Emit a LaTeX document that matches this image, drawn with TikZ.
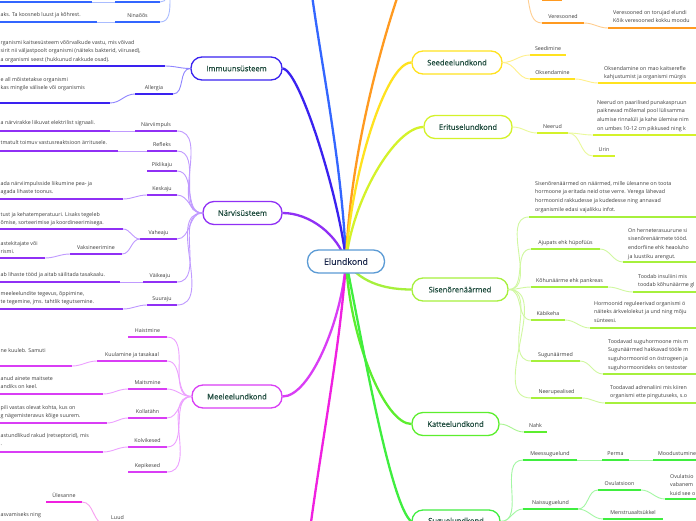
\documentclass[tikz,border=0pt]{standalone}
\usepackage{fontspec}
\setmainfont{Open Sans}
\newfontfamily\bxfam{Open Sans}[FakeBold=0.5]
\usetikzlibrary{backgrounds}
\newcommand{\nf}{\fontsize{5.3}{8.6}\selectfont}
\newcommand{\bxf}{\bxfam\fontsize{7.6}{9}\selectfont}
\newcommand{\crf}{\bxfam\fontsize{8.8}{10}\selectfont}
\definecolor{hing}{HTML}{3366FF}
\definecolor{hingL}{HTML}{A9BCFF}
\definecolor{imm}{HTML}{3A22F0}
\definecolor{immL}{HTML}{8F85FF}
\definecolor{nerv}{HTML}{9030F5}
\definecolor{nervL}{HTML}{C09AFF}
\definecolor{meel}{HTML}{D93DF5}
\definecolor{meelL}{HTML}{EDA0FF}
\definecolor{tugi}{HTML}{F020E0}
\definecolor{tugiL}{HTML}{F8A0F0}
\definecolor{vere}{HTML}{FF9A20}
\definecolor{vereL}{HTML}{FFCE90}
\definecolor{seed}{HTML}{FFE21F}
\definecolor{seedL}{HTML}{FFF08A}
\definecolor{erit}{HTML}{D4F22A}
\definecolor{eritL}{HTML}{EAF99A}
\definecolor{sise}{HTML}{A6F03C}
\definecolor{siseL}{HTML}{D0F8A0}
\definecolor{katt}{HTML}{5CEE2E}
\definecolor{kattL}{HTML}{A8F590}
\definecolor{sugu}{HTML}{3FEE3F}
\definecolor{suguL}{HTML}{A4F7A4}
\definecolor{core}{HTML}{5B9BD5}
\definecolor{boxtxt}{HTML}{1D4A3C}
\definecolor{coretxt}{HTML}{1E2B4F}
\definecolor{labtxt}{HTML}{3C3C3C}
\tikzset{
  mainln/.style={line width=2.3pt},
  conn/.style={line width=0.9pt},
  ul/.style={line width=1.9pt},
  bx/.style={draw, rounded corners=11pt, line width=1.3pt, fill=white, minimum height=23pt, inner sep=0pt, font=\bxf, text=boxtxt},
  lab/.style={anchor=base, inner sep=0pt, font=\nf, text=labtxt},
  note/.style={anchor=north west, inner sep=0pt, align=left, font=\nf, text=labtxt},
}
% topic: name, x1, x2, y, colour, label
\newcommand{\mmtp}[6]{%
  \coordinate (#1s) at (#2,#4);
  \coordinate (#1e) at (#3,#4);
  \draw[ul,#5] (#1s) -- (#1e);
  \node[lab] (#1l) at ({(#2+#3)/2},{#4-5}) {#6};
}
% plain underline: name, x1, x2, y, colour
\newcommand{\mmul}[5]{%
  \coordinate (#1s) at (#2,#4);
  \coordinate (#1e) at (#3,#4);
  \draw[ul,#5] (#1s) -- (#1e);
}
\begin{document}
\begin{tikzpicture}[x=1pt,y=-1pt]
\useasboundingbox (0,0) rectangle (696,520);
\clip (0,0) rectangle (696,520);

% ---------- main boxes ----------
\node[bx, draw=core, text=coretxt, font=\crf, minimum width=77pt] (core) at (346,261.5) {Elundkond};
\node[bx, draw=imm, minimum width=91pt] (imm) at (236.5,68.5) {Immuunsüsteem};
\node[bx, draw=nerv, minimum width=79pt] (nerv) at (242.5,213) {Närvisüsteem};
\node[bx, draw=meel, minimum width=90pt] (meel) at (237,396.5) {Meeleelundkond};
\node[bx, draw=seed, minimum width=90pt] (seed) at (457,62.5) {Seedeelundkond};
\node[bx, draw=erit, minimum width=88pt] (erit) at (468,127) {Erituselundkond};
\node[bx, draw=sise, minimum width=96pt] (sise) at (460,289.5) {Sisenõrenäärmed};
\node[bx, draw=katt, minimum width=87pt] (katt) at (455.5,424) {Katteelundkond};
\node[bx, draw=sugu, minimum width=88pt] (sugu) at (456,521.5) {Suguelundkond};

\coordinate (hingE) at (310,-20);
\coordinate (hingW) at (180,-25);
\coordinate (vereE) at (405,-25);
\coordinate (vereW) at (515,-20);
\coordinate (tugiE) at (308,545);

\begin{pgfonlayer}{background}
\fill[white] (0,0) rectangle (696,520);
\draw[mainln,hing] (core.center) .. controls (342,160) and (320,60) .. (hingE);
\draw[mainln,imm] (core.center) .. controls (340,200) and (300,70) .. (imm.east);
\draw[mainln,nerv] (core.center) .. controls (338,235) and (310,213) .. (nerv.east);
\draw[mainln,vere] (core.center) .. controls (350,150) and (385,30) .. (vereE);
\draw[mainln,seed] (core.center) .. controls (350,180) and (385,62.5) .. (seed.west);
\draw[mainln,erit] (core.center) .. controls (352,200) and (395,127) .. (erit.west);
\draw[mainln,meel] (core.center) .. controls (342,320) and (310,396.5) .. (meel.east);
\draw[mainln,tugi] (core.center) .. controls (340,350) and (320,450) .. (tugiE);
\draw[mainln,sise] (core.center) .. controls (362,285) and (390,289.5) .. (sise.west);
\draw[mainln,katt] (core.center) .. controls (350,340) and (385,424) .. (katt.west);
\draw[mainln,sugu] (core.center) .. controls (360,330) and (390,505) .. (sugu.west);
\end{pgfonlayer}

% ---------- top-left (blue) ----------
\mmul{hA}{0}{92}{2}{hing}
\mmul{hB}{115}{160}{2}{hing}
\draw[conn,hingL] (hAe) -- (hBs);
\draw[conn,hingL] (hBe) to[out=0,in=180] (hingW);
\node[note] (hCn) at (0.5,12) {aks. Ta koosneb luust ja kõhrest.};
\mmul{hC}{0}{97}{22}{hing}
\mmtp{hD}{115}{160}{22}{hing}{Ninaõõs}
\draw[conn,hingL] (hCe) -- (hDs);
\draw[conn,hingL] (hDe) to[out=0,in=180] (hingW);

% ---------- Immuunsüsteem ----------
\node[note] (imAn) at (0.5,40) {rganismi kaitsesüsteem võõrvalkude vastu, mis võivad\\sirit nii väljastpoolt organismi (näiteks bakterid, viirused),\\a organismi seest (hukkunud rakkude osad).};
\mmul{imA}{0}{165}{66}{imm}
\draw[conn,immL] (imAe) to[out=0,in=180] (imm.west);
\node[note] (imBn) at (0.5,77) {e all mõistetakse organismi\\kas mingile välisele või organismis};
\mmul{imB}{0}{110}{103}{imm}
\mmtp{imC}{135}{173}{94}{imm}{Allergia}
\draw[conn,immL] (imBe) to[out=0,in=180] (imCs);
\draw[conn,immL] (imCe) to[out=0,in=180] (imm.west);

% ---------- Närvisüsteem ----------
\node[note] (nAn) at (0.5,120) {a närvirakke liikuvat elektrilist signaali.};
\mmul{nA}{0}{110}{131}{nerv}
\mmtp{nB}{135}{177}{131}{nerv}{Närviimpuls}
\draw[conn,nervL] (nAe) -- (nBs);
\node[note] (nCn) at (0.5,140) {tmatult toimuv vastusreaktsioon ärritusele.};
\mmul{nC}{0}{118}{151}{nerv}
\mmtp{nD}{147}{177}{151}{nerv}{Refleks}
\draw[conn,nervL] (nCe) -- (nDs);
\mmtp{nE}{147}{177}{171}{nerv}{Piklikaju}
\node[note] (nFn) at (0.5,181) {ada närviimpulsside liikumine pea- ja\\agada lihaste toonus.};
\mmul{nF}{0}{123}{199}{nerv}
\mmtp{nG}{147}{177}{195}{nerv}{Keskaju}
\draw[conn,nervL] (nFe) to[out=0,in=180] (nGs);
\node[note] (nHn) at (0.5,212) {tust ja kehatemperatuuri. Lisaks tegeleb\\õmise, sorteerimise ja koordineerimisega.};
\mmul{nH}{0}{123}{229}{nerv}
\mmtp{nI}{140}{177}{239}{nerv}{Vaheaju}
\draw[conn,nervL] (nHe) to[out=0,in=180] (nIs);
\mmtp{nJ}{70}{122}{254}{nerv}{Vaksineerimine}
\draw[conn,nervL] (nJe) to[out=0,in=180] (nIs);
\node[note] (nKn) at (0.5,241) {astekitajate või\\rismi.};
\mmul{nK}{0}{45}{258}{nerv}
\draw[conn,nervL] (nKe) to[out=0,in=180] (nJs);
\node[note] (nLn) at (0.5,272) {ab lihaste tööd ja aitab säilitada tasakaalu.};
\mmul{nL}{0}{120}{282}{nerv}
\mmtp{nM}{143}{177}{282}{nerv}{Väikeaju}
\draw[conn,nervL] (nLe) -- (nMs);
\node[note] (nNn) at (0.5,291) {meeleelundite tegevus, õppimine,\\te tegemine, jms. tahtlik tegutsemine.};
\mmul{nN}{0}{123}{309}{nerv}
\mmtp{nO}{147}{177}{305}{nerv}{Suuraju}
\draw[conn,nervL] (nNe) to[out=0,in=180] (nOs);
\foreach \t in {nB,nD,nE,nG,nI,nM,nO}
  \draw[conn,nervL] (\t e) to[out=0,in=180] (nerv.west);

% ---------- Meeleelundkond ----------
\mmtp{mA}{128}{167}{337}{meel}{Haistmine}
\mmtp{mB}{97}{167}{361}{meel}{Kuulamine ja tasakaal}
\node[note] (mCn) at (0.5,348) {ne kuuleb. Samuti};
\mmul{mC}{0}{72}{366}{meel}
\draw[conn,meelL] (mCe) to[out=0,in=180] (mBs);
\mmtp{mD}{128}{167}{389}{meel}{Maitsmine}
\node[note] (mEn) at (0.5,376) {anud ainete maitsete\\andiks on keel.};
\mmul{mE}{0}{103}{394}{meel}
\draw[conn,meelL] (mEe) to[out=0,in=180] (mDs);
\mmtp{mF}{128}{167}{418}{meel}{Kollatähn}
\node[note] (mGn) at (0.5,405) {pili vastas olevat kohta, kus on\\g nägemisteravus kõige suurem.};
\mmul{mG}{0}{107}{423}{meel}
\draw[conn,meelL] (mGe) to[out=0,in=180] (mFs);
\mmtp{mH}{128}{167}{447}{meel}{Kolvikesed}
\node[note] (mIn) at (0.5,433) {astundlikud rakud (retseptorid), mis\\.};
\mmul{mI}{0}{103}{452}{meel}
\draw[conn,meelL] (mIe) to[out=0,in=180] (mHs);
\mmtp{mJ}{128}{167}{472}{meel}{Kepikesed}
\foreach \t in {mA,mB,mD,mF,mH,mJ}
  \draw[conn,meelL] (\t e) to[out=0,in=180] (meel.west);

% ---------- bottom-left (magenta) ----------
\mmtp{tA}{46}{82}{502}{tugi}{Ülesanne}
\mmtp{tB}{105}{130}{524}{tugi}{Luud}
\draw[conn,tugiL] (tAe) to[out=0,in=180] (tBs);
\node[note] (tCn) at (0.5,512) {asvamiseks ning};

% ---------- top-right (orange) ----------
\mmul{vA}{542}{562}{0}{vere}
\mmtp{vB}{542}{584}{23}{vere}{Veresooned}
\draw[conn,vereL] (vereW) to[out=0,in=180] (vBs);
\node[note] (vCn) at (613,10) {Veresooned on torujad elundi\\Kõik veresooned kokku moodu};
\mmul{vC}{608}{696}{28}{vere}
\draw[conn,vereL] (vBe) to[out=0,in=180] (vCs);

% ---------- Seedeelundkond ----------
\mmtp{sA}{530}{566}{55}{seed}{Seedimine}
\mmtp{sB}{530}{575}{79}{seed}{Oksendamine}
\node[note] (sCn) at (604,66) {Oksendamine on mao kaitserefle\\kahjustumist ja organismi mürgis};
\mmul{sC}{598}{696}{83}{seed}
\draw[conn,seedL] (sBe) to[out=0,in=180] (sCs);
\draw[conn,seedL] (seed.east) to[out=0,in=180] (sAs);
\draw[conn,seedL] (seed.east) to[out=0,in=180] (sBs);

% ---------- Erituselundkond ----------
\mmtp{eA}{537}{568}{133}{erit}{Neerud}
\node[note] (eBn) at (597,100) {Neerud on paarilised punakaspruun\\paiknevad mõlemal pool lülisamma\\alumise rinnalüli ja kahe ülemise nim\\on umbes 10-12 cm pikkused ning k};
\mmul{eB}{593}{696}{135}{erit}
\draw[conn,eritL] (eAe) to[out=0,in=180] (eBs);
\mmtp{eC}{593}{615}{156}{erit}{Urin}
\draw[conn,eritL] (eAe) to[out=0,in=180] (eCs);
\draw[conn,eritL] (erit.east) to[out=0,in=180] (eAs);

% ---------- Sisenõrenäärmed ----------
\node[note] (iAn) at (535,181) {Sisenõrenäärmed on näärmed, mille ülesanne on toota\\hormoone ja eritada neid otse verre. Verega lähevad\\hormoonid rakkudesse ja kudedesse ning annavad\\organismile edasi vajalikku infot.};
\mmul{iA}{529}{696}{217}{sise}
\mmtp{iB}{531}{600}{249}{sise}{Ajupats ehk hüpofüüs}
\node[note] (iCn) at (628,228) {On herneterasuurune si\\sisenõrenäärmete tööd.\\endorfiine ehk heaoluho\\ja luustiku arengut.};
\mmul{iC}{623}{696}{262}{sise}
\draw[conn,siseL] (iBe) to[out=0,in=180] (iCs);
\mmtp{iD}{531}{608}{287}{sise}{Kõhunäärme ehk pankreas}
\node[note] (iEn) at (638,274) {Toodab insuliini mis\\toodab kõhunäärme gl};
\mmul{iE}{633}{696}{292}{sise}
\draw[conn,siseL] (iDe) to[out=0,in=180] (iEs);
\mmtp{iF}{531}{565}{320}{sise}{Käbikeha}
\node[note] (iGn) at (594,301) {Hormoonid reguleerivad organismi ö\\näiteks ärkvelolekut ja und ning mõju\\sünteesi.};
\mmul{iG}{590}{696}{328}{sise}
\draw[conn,siseL] (iFe) to[out=0,in=180] (iGs);
\mmtp{iH}{531}{580}{361}{sise}{Sugunäärmed}
\node[note] (iIn) at (608,339) {Toodavad suguhormoone mis m\\Sugunäärmed hakkavad tööle m\\suguhormoonid on östrogeen ja\\suguhormoonideks on testoster};
\mmul{iI}{603}{696}{374}{sise}
\draw[conn,siseL] (iHe) to[out=0,in=180] (iIs);
\mmtp{iJ}{531}{582}{398}{sise}{Neerupealised}
\node[note] (iKn) at (610,385) {Toodavad adrenaliini mis kiiren\\organismi ette pingutuseks, s.o};
\mmul{iK}{605}{696}{403}{sise}
\draw[conn,siseL] (iJe) to[out=0,in=180] (iKs);
\foreach \t in {iA,iB,iD,iF,iH,iJ}
  \draw[conn,siseL] (sise.east) to[out=0,in=180] (\t s);

% ---------- Katteelundkond ----------
\mmtp{kA}{524}{547}{432}{katt}{Nahk}
\draw[conn,kattL] (katt.east) to[out=0,in=180] (kAs);

% ---------- Suguelundkond ----------
\mmtp{gA}{523}{577}{460}{sugu}{Meessuguelund}
\mmtp{gB}{602}{629}{460}{sugu}{Perma}
\mmul{gC}{653}{700}{460}{sugu}
\node[lab,anchor=base west] (gCl) at (658,455) {Moodustumine};
\draw[conn,suguL] (gAe) -- (gBs);
\draw[conn,suguL] (gBe) -- (gCs);
\mmtp{gD}{523}{578}{509}{sugu}{Naissuguelund}
\mmtp{gE}{598}{641}{490}{sugu}{Ovulatsioon}
\draw[conn,suguL] (gDe) to[out=0,in=180] (gEs);
\node[note] (gFn) at (670,474) {Ovulatsio\\vabanem\\kuid see o};
\mmul{gF}{665}{696}{499}{sugu}
\draw[conn,suguL] (gEe) to[out=0,in=180] (gFs);
\mmtp{gG}{603}{663}{519}{sugu}{Menstruaaltsükkel}
\draw[conn,suguL] (gDe) to[out=0,in=180] (gGs);
\draw[conn,suguL] (sugu.east) to[out=0,in=180] (gAs);
\draw[conn,suguL] (sugu.east) to[out=0,in=180] (gDs);
\end{tikzpicture}
\end{document}
